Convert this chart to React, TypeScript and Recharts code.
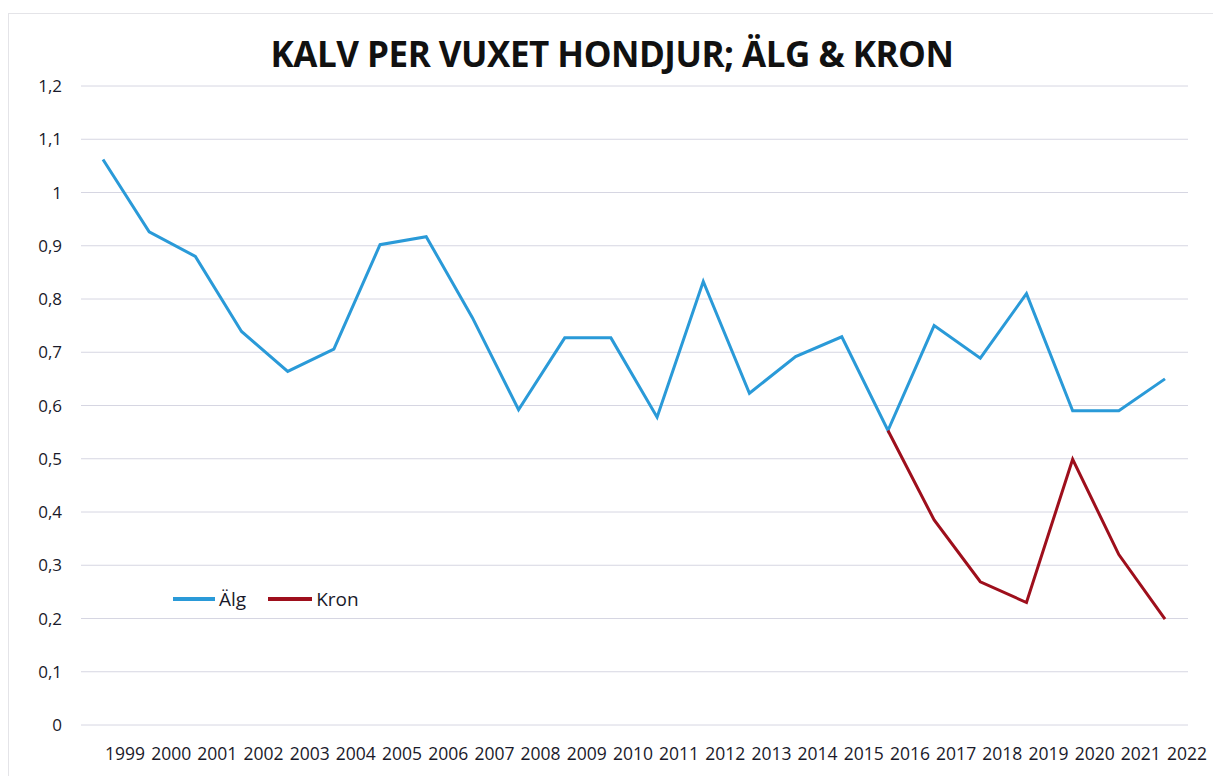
import { LineChart, Line, XAxis, YAxis, CartesianGrid } from "recharts";

const years = [
  "1999", "2000", "2001", "2002", "2003", "2004", "2005", "2006",
  "2007", "2008", "2009", "2010", "2011", "2012", "2013", "2014",
  "2015", "2016", "2017", "2018", "2019", "2020", "2021", "2022",
];

const algValues = [
  1.062, 0.926, 0.88, 0.739, 0.664, 0.706, 0.902, 0.917,
  0.765, 0.592, 0.727, 0.727, 0.578, 0.833, 0.623, 0.692,
  0.729, 0.553, 0.75, 0.689, 0.81, 0.59, 0.59, 0.65,
];

// kron only from 2016 and on
const kronValues = [
  null, null, null, null, null, null, null, null,
  null, null, null, null, null, null, null, null,
  null, 0.553, 0.385, 0.269, 0.23, 0.499, 0.32, 0.199,
];

const yTicks = [0, 0.1, 0.2, 0.3, 0.4, 0.5, 0.6, 0.7, 0.8, 0.9, 1, 1.1, 1.2];

const data = years.map((year, i) => ({
  year,
  alg: algValues[i],
  kron: kronValues[i],
}));

const FONT = "'Open Sans', 'DejaVu Sans', sans-serif";
const ALG_COLOR = "#2a9ad8";
const KRON_COLOR = "#9e0f1c";

const fmt = (v: number) => String(Math.round(v * 10) / 10).replace(".", ",");

const XTick = (props: any) => {
  const { x, y, payload } = props;
  return (
    <text x={x + 22} y={y + 27} textAnchor="middle" fontFamily={FONT} fontSize={17.5} fill="#1a1a2a">
      {payload.value}
    </text>
  );
};

const YTick = (props: any) => {
  const { x, y, payload } = props;
  return (
    <text x={x - 11} y={y + 6} textAnchor="end" fontFamily={FONT} fontSize={17} fill="#1a1a2a">
      {fmt(payload.value)}
    </text>
  );
};

export default function App() {
  return (
    <div style={{ position: "absolute", left: 0, top: 0, width: 1213, height: 776, background: "#fff" }}>
      <div
        style={{
          position: "absolute",
          left: 8,
          top: 13,
          width: 1205,
          height: 763,
          borderLeft: "1px solid #e4e4e8",
          borderTop: "1px solid #e4e4e8",
        }}
      />
      <div
        style={{
          position: "absolute",
          left: 0,
          top: 30,
          width: 1224,
          textAlign: "center",
          fontFamily: FONT,
          fontWeight: 700,
          fontSize: 35,
          letterSpacing: -0.5,
          color: "#111",
        }}
      >
        KALV PER VUXET HONDJUR; ÄLG &amp; KRON
      </div>
      <LineChart
        width={1213}
        height={776}
        data={data}
        margin={{ top: 86, right: 25, bottom: 0, left: 0 }}
        style={{ position: "absolute", left: 0, top: 0 }}
      >
        <CartesianGrid vertical={false} stroke="#d6d6e2" strokeWidth={1} />
        <XAxis
          dataKey="year"
          axisLine={false}
          tickLine={false}
          height={51}
          tick={<XTick />}
          interval={0}
          padding={{ left: 22, right: 23 }}
        />
        <YAxis
          width={81}
          domain={[0, 1.2]}
          ticks={yTicks}
          axisLine={false}
          tickLine={false}
          tick={<YTick />}
          interval={0}
        />
        <Line
          type="linear"
          dataKey="alg"
          name="Älg"
          stroke={ALG_COLOR}
          strokeWidth={3}
          dot={false}
          isAnimationActive={false}
        />
        <Line
          type="linear"
          dataKey="kron"
          name="Kron"
          stroke={KRON_COLOR}
          strokeWidth={3}
          dot={false}
          connectNulls={false}
          isAnimationActive={false}
        />
      </LineChart>
      <div
        style={{
          position: "absolute",
          left: 173,
          top: 586,
          display: "flex",
          alignItems: "center",
          fontFamily: FONT,
          fontSize: 19,
          color: "#1a1a2a",
        }}
      >
        <span style={{ display: "inline-block", width: 42, height: 4, background: ALG_COLOR, marginRight: 4 }} />
        <span>Älg</span>
        <span style={{ display: "inline-block", width: 44, height: 4, background: KRON_COLOR, marginLeft: 22, marginRight: 4 }} />
        <span>Kron</span>
      </div>
    </div>
  );
}
